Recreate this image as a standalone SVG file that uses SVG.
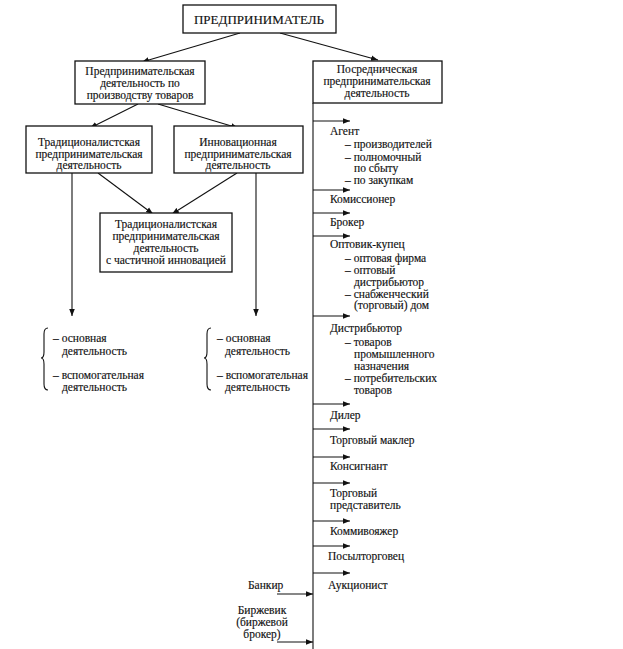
<svg xmlns="http://www.w3.org/2000/svg" width="623" height="649" viewBox="0 0 623 649">
<style>
.b{fill:#fff;stroke:#111;stroke-width:1.3}
.l{stroke:#111;stroke-width:1.1;fill:none}
text{font-family:"Liberation Serif","Times New Roman","DejaVu Serif",serif;font-size:11.5px;fill:#111;stroke:#111;stroke-width:0.15}
.c{text-anchor:middle}
.t{font-size:13px}
</style>
<defs>
<marker id="a" viewBox="0 0 10 10" refX="10" refY="5" markerWidth="7" markerHeight="7" markerUnits="userSpaceOnUse" orient="auto"><path d="M0,1 L10,5 L0,9 z" fill="#111"/></marker>
</defs>
<rect width="623" height="649" fill="#fff"/>
<g id="connectors">
<path class="l" d="M240,33 L142,62" marker-end="url(#a)"/>
<path class="l" d="M280,33 L378,60" marker-end="url(#a)"/>
<path class="l" d="M138,104 L90,128" marker-end="url(#a)"/>
<path class="l" d="M158,104 L238,128" marker-end="url(#a)"/>
<path class="l" d="M98,173 L153,214" marker-end="url(#a)"/>
<path class="l" d="M237,173 L172,214" marker-end="url(#a)"/>
<path class="l" d="M72,173 L72,316" marker-end="url(#a)"/>
<path class="l" d="M256,173 L256,316" marker-end="url(#a)"/>
<path class="l" d="M313,103 L313,649"/>
<g>
<path class="l" d="M313,121 L350,121" marker-end="url(#a)"/>
<path class="l" d="M313,190 L350,190" marker-end="url(#a)"/>
<path class="l" d="M313,213 L350,213" marker-end="url(#a)"/>
<path class="l" d="M313,236 L350,236" marker-end="url(#a)"/>
<path class="l" d="M313,316 L350,316" marker-end="url(#a)"/>
<path class="l" d="M313,404 L350,404" marker-end="url(#a)"/>
<path class="l" d="M313,429 L350,429" marker-end="url(#a)"/>
<path class="l" d="M313,457 L350,457" marker-end="url(#a)"/>
<path class="l" d="M313,483 L350,483" marker-end="url(#a)"/>
<path class="l" d="M313,521 L350,521" marker-end="url(#a)"/>
<path class="l" d="M313,546 L350,546" marker-end="url(#a)"/>
<path class="l" d="M313,573 L350,573" marker-end="url(#a)"/>
<path class="l" d="M277,594 L313,594" marker-end="url(#a)"/>
<path class="l" d="M277,642 L313,642" marker-end="url(#a)"/>
</g>
</g>
<g id="n-top">
<rect class="b" x="183" y="5" width="153" height="28"/>
<text class="c t" x="259" y="24">ПРЕДПРИНИМАТЕЛЬ</text>
</g>
<g id="n-prod">
<rect class="b" x="75" y="61" width="130" height="43"/>
<text class="c" x="140" y="75">Предпринимательская</text>
<text class="c" x="140" y="87">деятельность по</text>
<text class="c" x="140" y="99">производству товаров</text>
</g>
<g id="n-posr">
<rect class="b" x="313" y="61" width="129" height="42"/>
<text class="c" x="377" y="73">Посредническая</text>
<text class="c" x="377" y="85">предпринимательская</text>
<text class="c" x="377" y="97">деятельность</text>
</g>
<g id="n-trad">
<rect class="b" x="26" y="126" width="126" height="47"/>
<text class="c" x="89" y="146">Традиционалистская</text>
<text class="c" x="89" y="158">предпринимательская</text>
<text class="c" x="89" y="169">деятельность</text>
</g>
<g id="n-innov">
<rect class="b" x="174" y="126" width="129" height="47"/>
<text class="c" x="238" y="146">Инновационная</text>
<text class="c" x="238" y="158">предпринимательская</text>
<text class="c" x="238" y="169">деятельность</text>
</g>
<g id="n-mixed">
<rect class="b" x="100" y="213" width="132" height="59"/>
<text class="c" x="166" y="228">Традиционалистская</text>
<text class="c" x="166" y="240">предпринимательская</text>
<text class="c" x="166" y="252">деятельность</text>
<text class="c" x="166" y="264">с частичной инновацией</text>
</g>
<g id="n-left-list">
<path class="l" d="M48,328 Q44,328 44,334 L44,352 Q44,358 41,358 Q44,358 44,364 L44,384 Q44,390 48,390" stroke-width="0.9"/>
<text x="53" y="342">– основная</text>
<text x="62" y="355">деятельность</text>
<text x="53" y="379">– вспомогательная</text>
<text x="62" y="391">деятельность</text>
</g>
<g id="n-right-list">
<path class="l" d="M211,328 Q207,328 207,334 L207,352 Q207,358 204,358 Q207,358 207,364 L207,384 Q207,390 211,390" stroke-width="0.9"/>
<text x="217" y="342">– основная</text>
<text x="225" y="355">деятельность</text>
<text x="217" y="379">– вспомогательная</text>
<text x="225" y="391">деятельность</text>
</g>
<g id="n-agent">
<text x="330" y="135">Агент</text>
<text x="345" y="148">– производителей</text>
<text x="345" y="161">– полномочный</text>
<text x="354" y="172">по сбыту</text>
<text x="345" y="184">– по закупкам</text>
</g>
<g id="n-komis"><text x="330" y="203">Комиссионер</text></g>
<g id="n-broker"><text x="330" y="226">Брокер</text></g>
<g id="n-optovik">
<text x="330" y="248">Оптовик-купец</text>
<text x="345" y="262">– оптовая фирма</text>
<text x="345" y="274">– оптовый</text>
<text x="354" y="286">дистрибьютор</text>
<text x="345" y="298">– снабженческий</text>
<text x="354" y="309">(торговый) дом</text>
</g>
<g id="n-distr">
<text x="330" y="332">Дистрибьютор</text>
<text x="345" y="346">– товаров</text>
<text x="354" y="358">промышленного</text>
<text x="354" y="370">назначения</text>
<text x="345" y="382">– потребительских</text>
<text x="354" y="394">товаров</text>
</g>
<g id="n-diler"><text x="330" y="419">Дилер</text></g>
<g id="n-makler"><text x="330" y="444">Торговый маклер</text></g>
<g id="n-konsig"><text x="330" y="470">Консигнант</text></g>
<g id="n-predst">
<text x="330" y="497">Торговый</text>
<text x="330" y="509">представитель</text>
</g>
<g id="n-kommi"><text x="330" y="535">Коммивояжер</text></g>
<g id="n-posyl"><text x="328" y="560">Посылторговец</text></g>
<g id="n-aukc"><text x="328" y="589">Аукционист</text></g>
<g id="n-bankir"><text x="248" y="589">Банкир</text></g>
<g id="n-birzh">
<text class="c" x="262" y="614">Биржевик</text>
<text class="c" x="262" y="626">(биржевой</text>
<text class="c" x="262" y="638">брокер)</text>
</g>
</svg>
